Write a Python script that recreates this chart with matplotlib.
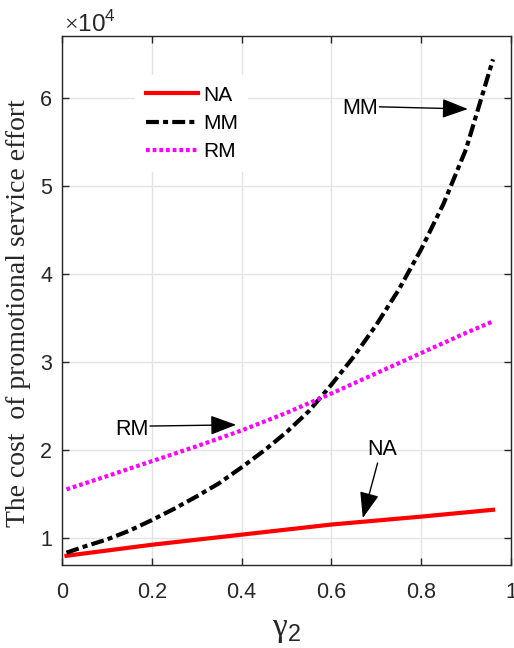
import numpy as np
import matplotlib.pyplot as plt
from matplotlib.ticker import FuncFormatter

plt.rcParams['font.family'] = ['Liberation Sans', 'DejaVu Sans']
plt.rcParams['mathtext.fontset'] = 'custom'
plt.rcParams['mathtext.rm'] = 'Liberation Serif'
plt.rcParams['mathtext.sf'] = 'Liberation Sans'

# values
gamma_na = [0.01, 0.2, 0.4, 0.6, 0.8, 0.96]
na = [7950, 9200, 10350, 11500, 12400, 13180]

gamma_mm = [0.01, 0.05, 0.10, 0.15, 0.20, 0.25, 0.30, 0.35, 0.40, 0.45, 0.50,
            0.55, 0.60, 0.65, 0.70, 0.75, 0.80, 0.85, 0.90, 0.93, 0.96]
mm = [8300, 9000, 9800, 10800, 12000, 13300, 14700, 16200, 18000, 19900, 22000,
      24400, 27400, 30600, 34200, 38200, 42800, 48000, 54200, 59300, 64400]

gamma_rm = [0.01, 0.1, 0.2, 0.3, 0.4, 0.5, 0.6, 0.7, 0.8, 0.9, 0.96]
rm = [15500, 17000, 18700, 20400, 22200, 24200, 26400, 28700, 31000, 33300, 34600]

ink = '#262626'
fs = 15.5
fig = plt.figure(figsize=(5.14, 6.48), dpi=100)
ax = fig.add_axes([0.1206, 0.1281, 0.8735, 0.8163])

ax.plot(gamma_na, na, color='red', lw=3, label='NA')
ax.plot(gamma_mm, mm, color='black', lw=3, linestyle=(0, (3.1, 1.0, 1.2, 1.0)), label='MM')
ax.plot(gamma_rm, rm, color='magenta', lw=3, linestyle=(0, (0.9, 0.7)), label='RM')

ax.set_xlim(0, 1)
ax.set_ylim(6900, 67050)
ax.set_xticks(np.arange(0, 1.01, 0.2))
ax.set_yticks(np.arange(10000, 60001, 10000))
ax.yaxis.set_major_formatter(FuncFormatter(lambda v, p: '%d' % round(v / 1e4)))
ax.xaxis.set_major_formatter(FuncFormatter(lambda v, p: '%g' % round(v, 1)))
ax.grid(True, color='#e3e3e3', lw=1)
ax.set_axisbelow(True)
ax.tick_params(direction='in', top=True, right=True, length=5, width=1,
               labelsize=fs, colors=ink)
ax.tick_params(axis='x', pad=12)
ax.tick_params(axis='y', pad=7)
for s in ax.spines.values():
    s.set_color(ink)
    s.set_linewidth(1)

ax.text(0.005, 1.0076, r'$\times\mathsf{10}^{\mathsf{4}}$', transform=ax.transAxes,
        ha='left', va='baseline', fontsize=17.5, color=ink)
ax.set_ylabel('The cost  of promotional service effort', family='Liberation Serif',
              fontsize=20, color=ink)
ax.yaxis.set_label_coords(-0.07, 0.476)
ax.set_xlabel(r'$\mathrm{\gamma}_{\mathsf{2}}$', fontsize=24, color=ink, labelpad=8)

leg = ax.legend(loc='upper left', bbox_to_anchor=(0.163, 0.926), borderaxespad=0,
                fontsize=15, handlelength=2.5, labelspacing=0.45, handletextpad=0.25,
                borderpad=0.5, frameon=True, fancybox=False, framealpha=1,
                edgecolor='none', facecolor='white')

arrow = dict(arrowstyle='-|>,head_length=1.6,head_width=0.6', color='black', lw=1,
             shrinkA=0, shrinkB=0, mutation_scale=10)
ax.annotate('', xy=(0.904, 58750), xytext=(0.707, 59000), arrowprops=arrow)
ax.text(0.703, 58860, 'MM', ha='right', va='center', fontsize=15.5)
ax.annotate('', xy=(0.388, 22840), xytext=(0.196, 22700), arrowprops=arrow)
ax.text(0.192, 22270, 'RM', ha='right', va='center', fontsize=15.5)
ax.annotate('', xy=(0.670, 12240), xytext=(0.703, 18500), arrowprops=arrow)
ax.text(0.714, 20000, 'NA', ha='center', va='center', fontsize=15.5)

fig.savefig('out.png', dpi=100)
